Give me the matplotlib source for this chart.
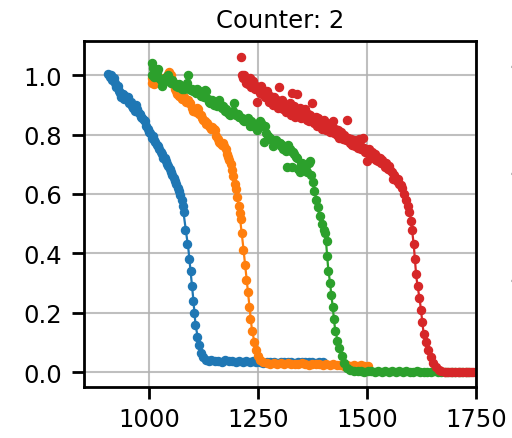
import matplotlib
matplotlib.use('Agg')
import matplotlib.pyplot as plt

# measured points, blue
blue_x = [906, 909, 912, 915, 918, 921, 924, 927, 930, 933, 936, 939, 942, 945, 948, 951,
          954, 957, 960, 963, 966, 969, 972, 975, 978, 981, 984, 987, 990, 993, 996, 999,
          1002, 1005, 1008, 1011, 1014, 1017, 1020, 1023, 1026, 1029, 1032, 1035, 1038,
          1041, 1044, 1047, 1050, 1053, 1056, 1059, 1062, 1065, 1068, 1071, 1074, 1077,
          1079, 1083, 1087, 1091, 1095, 1098, 1100, 1102, 1105, 1109, 1113, 1118, 1124,
          1130, 1136, 1142, 1150, 1158, 1166, 1174, 1182,
          1190, 1198, 1206, 1214, 1222, 1230, 1238, 1246, 1254, 1262, 1270, 1278, 1286,
          1294, 1302, 1310, 1318, 1326, 1334, 1342, 1350, 1358, 1366, 1374, 1382, 1390, 1398]
blue_y = [1.005, 0.995, 1.0, 0.985, 0.99, 0.975, 0.96, 0.965, 0.945, 0.94, 0.925, 0.935,
          0.92, 0.93, 0.92, 0.925, 0.905, 0.91, 0.895, 0.89, 0.88, 0.9, 0.885, 0.875, 0.87,
          0.86, 0.855, 0.85, 0.845, 0.83, 0.82, 0.81, 0.805, 0.79, 0.795, 0.78, 0.775,
          0.765, 0.76, 0.75, 0.74, 0.735, 0.72, 0.72, 0.71, 0.70, 0.695, 0.685, 0.675,
          0.665, 0.655, 0.645, 0.635, 0.62, 0.61, 0.595, 0.58, 0.56,
          0.54, 0.48, 0.43, 0.38, 0.34, 0.29, 0.24, 0.20, 0.16, 0.12, 0.09, 0.065, 0.05,
          0.042, 0.038, 0.04, 0.036, 0.038, 0.035, 0.04, 0.036, 0.038, 0.034,
          0.037, 0.035, 0.038, 0.034, 0.036, 0.033, 0.035, 0.032, 0.034, 0.033, 0.035,
          0.032, 0.034, 0.033, 0.035, 0.034, 0.032, 0.034, 0.033, 0.035, 0.033, 0.034,
          0.032, 0.034, 0.033]

# measured points, orange
orange_x = [1005, 1007, 1010, 1013, 1016, 1019, 1022, 1025, 1028, 1031, 1034, 1037, 1040,
            1043, 1046, 1049, 1052, 1055, 1058, 1061, 1064, 1067, 1070, 1073, 1076, 1079,
            1082, 1085, 1088, 1091, 1094, 1097, 1100, 1103, 1106, 1109, 1112, 1115, 1118,
            1121, 1124, 1127, 1130, 1133, 1136, 1139, 1142, 1145, 1148, 1151, 1154, 1157,
            1160, 1163, 1166, 1169, 1172, 1175, 1178, 1181, 1184, 1187, 1190, 1193, 1196,
            1199, 1202, 1205, 1208, 1210, 1213, 1216, 1219, 1223, 1226, 1229, 1232, 1236,
            1240, 1244, 1249, 1255, 1262, 1270, 1278,
            1286, 1294, 1302, 1310, 1318, 1326, 1334, 1342, 1350, 1358, 1366, 1374, 1382,
            1390, 1398, 1406, 1414, 1422, 1430, 1438, 1446, 1454, 1462, 1470, 1478, 1486,
            1494, 1502]
orange_y = [0.99, 0.975, 0.97, 0.98, 0.99, 0.995, 0.985, 0.99, 0.975, 0.985, 0.99, 0.98,
            0.995, 1.005, 1.01, 1.0, 0.985, 0.97, 0.955, 0.945, 0.935, 0.93, 0.935, 0.925,
            0.92, 0.925, 0.915, 0.91, 0.915, 0.905, 0.905, 0.89, 0.88, 0.885, 0.875, 0.89,
            0.885, 0.87, 0.865, 0.855, 0.85, 0.845, 0.835, 0.84, 0.83, 0.825, 0.82, 0.825,
            0.82, 0.815, 0.795, 0.785, 0.775, 0.77, 0.765, 0.77, 0.76, 0.75, 0.735, 0.725,
            0.715, 0.70, 0.68, 0.66, 0.635, 0.615, 0.59, 0.56, 0.535, 0.515, 0.47, 0.41,
            0.36, 0.31, 0.27, 0.22, 0.18, 0.14, 0.10, 0.075, 0.055, 0.042, 0.035, 0.032,
            0.028, 0.031, 0.027, 0.03, 0.028, 0.031,
            0.027, 0.029, 0.026, 0.03, 0.027, 0.025, 0.028, 0.026, 0.029, 0.025, 0.027,
            0.024, 0.026, 0.023, 0.025, 0.022, 0.025, 0.022, 0.024, 0.02, 0.023, 0.02, 0.022]

# measured points, green
green_x = [1005, 1007, 1009, 1011, 1014, 1017, 1020, 1023, 1026, 1029, 1032, 1035, 1038,
           1041, 1044, 1047, 1050, 1053, 1056, 1059, 1062, 1065, 1068, 1071, 1074, 1077,
           1080, 1083, 1086, 1089, 1092, 1095, 1098, 1101, 1104, 1107, 1110, 1113, 1116,
           1119, 1122, 1125, 1128, 1131, 1134, 1137, 1140, 1143, 1146, 1149, 1152, 1155,
           1158, 1161, 1164, 1167, 1170, 1173, 1176, 1179, 1182, 1185, 1188, 1191, 1194,
           1197, 1200, 1203, 1206, 1209, 1212, 1215, 1218, 1221, 1224, 1227, 1230, 1233,
           1236, 1239, 1242, 1245, 1248, 1251, 1254, 1257, 1260, 1263, 1266, 1269, 1272,
           1275, 1278, 1281, 1284, 1287, 1290, 1293, 1296, 1299, 1302, 1305, 1308, 1311,
           1314, 1316, 1319, 1322, 1325, 1327, 1330, 1333, 1336, 1339, 1342, 1345, 1348,
           1351, 1354, 1357, 1360, 1363, 1366, 1369, 1372, 1375, 1379, 1383, 1387, 1391,
           1396, 1401, 1404, 1407, 1409, 1411, 1414, 1418, 1421, 1424, 1427, 1431, 1436,
           1442, 1448, 1454, 1461, 1470,
           1478, 1486, 1494, 1502, 1510, 1518, 1526, 1534, 1542, 1550, 1558, 1566, 1574,
           1582, 1590, 1598, 1606, 1614, 1622, 1630, 1638, 1646, 1654, 1662, 1670, 1678,
           1686, 1694, 1702, 1710, 1718, 1726, 1734]
green_y = [1.0, 1.04, 1.025, 0.995, 1.0, 1.01, 1.02, 0.99, 0.985, 0.965, 0.975, 0.985,
           0.995, 0.99, 1.0, 0.98, 0.975, 0.985, 0.975, 0.97, 0.965, 0.96, 0.97, 0.965,
           0.955, 0.96, 0.955, 0.965, 0.975, 1.0, 0.955, 0.95, 0.955, 0.945, 0.95, 0.94,
           0.955, 0.945, 0.935, 0.93, 0.935, 0.925, 0.95, 0.945, 0.92, 0.91, 0.905, 0.915,
           0.91, 0.9, 0.905, 0.895, 0.91, 0.915, 0.9, 0.89, 0.895, 0.88, 0.885, 0.875, 0.87,
           0.865, 0.875, 0.88, 0.905, 0.87, 0.865, 0.87, 0.86, 0.86, 0.855, 0.85, 0.845,
           0.85, 0.845, 0.855, 0.83, 0.845, 0.84, 0.83, 0.835, 0.825, 0.815, 0.84, 0.845,
           0.84, 0.83, 0.775, 0.83, 0.805, 0.795, 0.79, 0.79, 0.78, 0.76, 0.775, 0.78,
           0.775, 0.77, 0.77, 0.76, 0.765, 0.75, 0.755, 0.745, 0.69, 0.765, 0.75, 0.745,
           0.69, 0.74, 0.735, 0.725, 0.72, 0.685, 0.675, 0.70, 0.705, 0.685, 0.695, 0.68,
           0.675, 0.705, 0.71, 0.665, 0.64, 0.61, 0.58, 0.555, 0.525,
           0.50, 0.48, 0.47, 0.44, 0.39, 0.34, 0.30, 0.26, 0.22, 0.18, 0.14, 0.105, 0.08,
           0.055, 0.032, 0.015, 0.006, 0.004,
           0.003, 0.005, 0.002, 0.004, 0.003, 0.001, 0.004, 0.002, 0.003, 0.001, 0.003,
           0.002, 0.004, 0.001, 0.003, 0.002, 0.001, 0.003, 0.002, 0.0, 0.002, 0.001,
           0.003, 0.001, 0.002, 0.0, 0.002, 0.001, 0.0, 0.002, 0.001, 0.0, 0.001]

# measured points, red
red_x = [1210, 1212, 1215, 1218, 1221, 1224, 1227, 1230, 1233, 1236, 1239, 1242, 1245,
         1248, 1250, 1253, 1256, 1259, 1262, 1265, 1268, 1271, 1274, 1277, 1280, 1283,
         1286, 1289, 1292, 1295, 1298, 1301, 1304, 1307, 1310, 1313, 1316, 1319, 1322,
         1325, 1328, 1331, 1334, 1337, 1340, 1343, 1346, 1349, 1352, 1355, 1358, 1361,
         1364, 1367, 1370, 1373, 1376, 1379, 1382, 1385, 1388, 1391, 1394, 1397, 1400,
         1403, 1406, 1409, 1412, 1415, 1418, 1421, 1424, 1427, 1430, 1433, 1436, 1439,
         1442, 1445, 1448, 1451, 1454, 1457, 1460, 1463, 1466, 1469, 1472, 1475, 1478,
         1481, 1484, 1487, 1490, 1493, 1496, 1499, 1502, 1505, 1508, 1511, 1514, 1517,
         1520, 1523, 1526, 1529, 1532, 1535, 1538, 1541, 1544, 1547, 1550, 1553, 1556,
         1559, 1562, 1565, 1568, 1571, 1574, 1577,
         1581, 1585, 1589, 1593, 1597, 1601, 1604, 1607, 1609, 1612, 1616, 1620, 1623,
         1626, 1630, 1635, 1640, 1646, 1652, 1658, 1664, 1670,
         1678, 1684, 1690, 1696, 1702, 1708, 1714, 1720, 1726, 1732, 1738, 1744, 1750]
red_y = [1.06, 1.0, 0.99, 1.0, 0.975, 0.985, 0.97, 0.99, 0.96, 0.975, 0.98, 0.955, 0.965,
         0.91, 0.955, 0.94, 0.965, 0.935, 0.95, 0.925, 0.94, 0.945, 0.91, 0.93, 0.92,
         0.9, 0.925, 0.905, 0.915, 0.89, 0.96, 0.905, 0.915, 0.885, 0.9, 0.875, 0.895,
         0.88, 0.905, 0.865, 0.94, 0.895, 0.86, 0.88, 0.935, 0.87, 0.89, 0.855, 0.875,
         0.865, 0.885, 0.85, 0.87, 0.845, 0.865, 0.905, 0.85, 0.84, 0.86, 0.83, 0.855,
         0.835, 0.845, 0.82, 0.85, 0.835, 0.815, 0.84, 0.825, 0.81, 0.835, 0.845, 0.805,
         0.82, 0.80, 0.815, 0.79, 0.81, 0.795, 0.785, 0.80, 0.78, 0.85, 0.79, 0.77, 0.785,
         0.765, 0.78, 0.76, 0.775, 0.755, 0.785, 0.765, 0.75, 0.79, 0.755, 0.74, 0.71,
         0.745, 0.75, 0.73, 0.74, 0.72, 0.735, 0.715, 0.725, 0.71, 0.72, 0.705, 0.715,
         0.70, 0.69, 0.705, 0.685, 0.695, 0.68, 0.675, 0.65, 0.665, 0.655, 0.645, 0.65,
         0.635, 0.63,
         0.62, 0.60, 0.58, 0.56, 0.54, 0.51, 0.48, 0.43, 0.38, 0.33, 0.29, 0.25, 0.21,
         0.17, 0.13, 0.10, 0.075, 0.05, 0.03, 0.018, 0.008, 0.003,
         0.002, 0.001, 0.002, 0.0, 0.001, 0.002, 0.0, 0.001, 0.0, 0.002, 0.001, 0.0, 0.001]

# fitted curves drawn as lines
blue_fit_x = [906, 930, 960, 990, 1020, 1050, 1070, 1080, 1090, 1100, 1106, 1112, 1120,
              1135, 1200, 1300, 1398]
blue_fit_y = [1.0, 0.95, 0.895, 0.84, 0.765, 0.68, 0.60, 0.52, 0.41, 0.26, 0.16, 0.11,
              0.06, 0.04, 0.036, 0.034, 0.033]
orange_fit_x = [1005, 1040, 1060, 1100, 1140, 1170, 1190, 1205, 1215, 1225, 1235, 1245,
                1255, 1270, 1400, 1502]
orange_fit_y = [0.99, 0.99, 0.95, 0.89, 0.825, 0.765, 0.68, 0.56, 0.43, 0.29, 0.15, 0.07,
                0.045, 0.032, 0.026, 0.022]
green_fit_x = [1005, 1050, 1100, 1150, 1200, 1250, 1300, 1350, 1372, 1390, 1404, 1410,
               1418, 1426, 1434, 1445, 1458, 1480, 1740]
green_fit_y = [1.0, 0.98, 0.95, 0.905, 0.87, 0.835, 0.77, 0.705, 0.665, 0.53, 0.47, 0.36,
               0.26, 0.15, 0.09, 0.045, 0.01, 0.003, 0.001]
red_fit_x = [1210, 1250, 1300, 1350, 1400, 1450, 1500, 1550, 1580, 1600, 1607, 1613,
             1622, 1629, 1640, 1652, 1667, 1750]
red_fit_y = [1.0, 0.955, 0.905, 0.87, 0.835, 0.795, 0.745, 0.69, 0.625, 0.52, 0.43, 0.32,
             0.23, 0.14, 0.075, 0.03, 0.005, 0.001]

series = [(blue_x, blue_y, blue_fit_x, blue_fit_y, 'tab:blue'),
          (orange_x, orange_y, orange_fit_x, orange_fit_y, 'tab:orange'),
          (green_x, green_y, green_fit_x, green_fit_y, 'tab:green'),
          (red_x, red_y, red_fit_x, red_fit_y, 'tab:red')]

title = 'Counter: 2'
x_ticks = [1000, 1250, 1500, 1750]
y_ticks = [0.0, 0.2, 0.4, 0.6, 0.8, 1.0]

fig = plt.figure(figsize=(5.12, 4.39), dpi=100)
ax = fig.add_axes([84 / 512, 51 / 439, 392 / 512, 346 / 439])

for xs, ys, fx, fy, c in series:
    ax.plot(fx, fy, '-', color=c, lw=1.6)
    ax.plot(xs, ys, 'o', color=c, ms=5.8)

ax.set_xlim(850, 1750)
ax.set_ylim(-0.05, 1.115)
ax.set_xticks(x_ticks)
ax.set_yticks(y_ticks)
ax.set_yticklabels(['%.1f' % v for v in y_ticks])
ax.grid(True, color='#b0b0b0', lw=1.5, alpha=0.8)
ax.set_axisbelow(True)
ax.tick_params(labelsize=17.5, length=8.6, width=2.0)
ax.tick_params(axis='x', pad=5.5)
ax.tick_params(axis='y', pad=7.5)
for sp in ax.spines.values():
    sp.set_linewidth(2.0)
ax.set_title(title, fontsize=17.5, pad=10)

# clipped tick labels of the neighbouring panel at the right edge
for py in [83, 190, 297]:
    fig.text(508 / 512, 1 - py / 439, '1', fontsize=17.5, ha='left', va='baseline',
             color='#262626')

fig.savefig('out.png', dpi=100)
